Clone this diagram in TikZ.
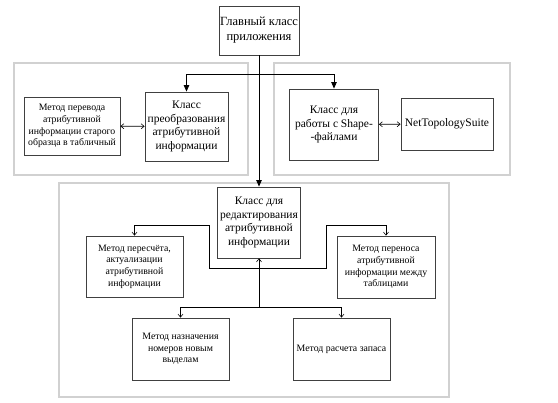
\documentclass[tikz,border=0pt]{standalone}
\usepackage{fontspec}
\setmainfont{Liberation Serif}
\usetikzlibrary{shapes,arrows.meta,positioning,calc}

\begin{document}
\begin{tikzpicture}[
    x=1pt, y=-1pt,
    cls/.style={rectangle, draw=black!75, line width=0.8pt, fill=white, align=center, inner sep=1pt, font=\fontsize{11.5}{13.5}\selectfont},
    method/.style={cls, font=\fontsize{9.8}{11.7}\selectfont},
    group/.style={draw=black!18, line width=1.2pt},
    arrow/.style={-{Triangle[length=6.5pt,width=5.5pt]}, line width=0.8pt},
    link/.style={-{Straight Barb[length=3pt,width=5pt]}, line width=0.6pt},
    both/.style={{Straight Barb[length=3pt,width=5pt]}-{Straight Barb[length=3pt,width=5pt]}, line width=0.6pt}
]
\useasboundingbox (0,0) rectangle (558,403);

% Groups
\draw [group] (14,63) rectangle (248,175);
\draw [group] (274,63) rectangle (510,175);
\draw [group] (59,183) rectangle (449,397);

% Main class
\node (main) [cls, minimum width=75, minimum height=49, font=\fontsize{12.5}{15}\selectfont] at (259,30.5) {Главный класс\\приложения};

% Conversion
\node (perevod) [method, minimum width=96, minimum height=58] at (72,126) {Метод перевода\\атрибутивной\\информации старого\\образца в табличный};
\node (preobr) [cls, minimum width=83, minimum height=69] at (186.5,126.5) {Класс\\преобразования\\атрибутивной\\информации};

% Shape files
\node (shape) [cls, minimum width=89, minimum height=71] at (334,124.5) {Класс для\\работы с Shape-\\-файлами};
\node (nts) [cls, minimum width=92, minimum height=52] at (447,124) {NetTopologySuite};

% Editing
\node (edit) [cls, minimum width=83, minimum height=71] at (259,222.5) {Класс для\\редактирования\\атрибутивной\\информации};
\node (pereschet) [method, minimum width=97, minimum height=61] at (134.5,266.5) {Метод пересчёта,\\актуализации\\атрибутивной\\информации};
\node (perenos) [method, minimum width=98, minimum height=62] at (386,267) {Метод переноса\\атрибутивной\\информации между\\таблицами};
\node (naznach) [method, minimum width=97, minimum height=62] at (180.5,349) {Метод назначения\\номеров новым\\выделам};
\node (raschet) [method, minimum width=97, minimum height=62] at (341.5,349) {Метод расчета запаса};

% Arrows
\coordinate (split) at (259,74);
\draw [arrow] (main) -- (edit);
\draw [arrow] (split) -| (preobr.north);
\draw [arrow] (split) -| (shape.north);
\draw [both] (perevod) -- (preobr);
\draw [both] (shape) -- (nts);

\coordinate (hub) at (259,307);
\coordinate (fork) at (259,268);
\coordinate (lbend) at (209,225);
\coordinate (rbend) at (326,225);
\draw [link] (hub) -- (edit.south);
\draw [link] (hub) -| (naznach.north);
\draw [link] (hub) -| (raschet.north);
\draw [link] (fork) -| (lbend) -| (pereschet.north);
\draw [link] (fork) -| (rbend) -| (perenos.north);

\end{tikzpicture}
\end{document}
